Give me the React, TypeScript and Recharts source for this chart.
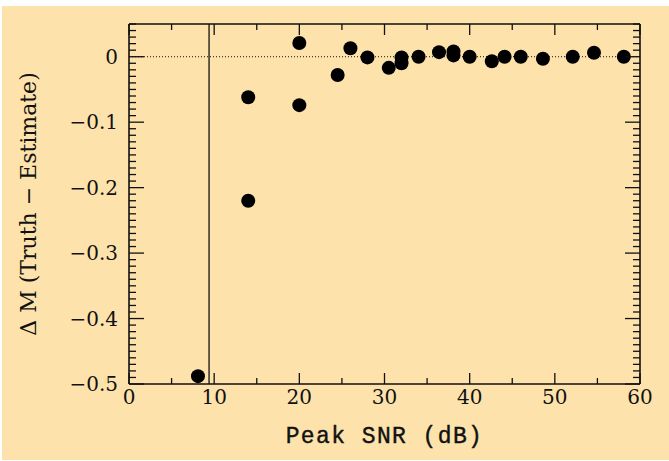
import React from 'react';
import { ScatterChart, Scatter, XAxis, YAxis, ReferenceLine } from 'recharts';

// Peak SNR (dB) vs Delta M (Truth - Estimate)
const snr = [8.1, 14.0, 14.0, 20.0, 20.0, 24.5, 26.0, 28.0, 30.5, 32.0, 32.0, 34.0, 36.4, 38.1, 38.1, 40.0, 42.6, 44.1, 46.0, 48.6, 52.1, 54.6, 58.1];
const deltaM = [-0.488, -0.062, -0.22, 0.021, -0.074, -0.028, 0.013, -0.001, -0.017, -0.001, -0.01, 0.0, 0.007, 0.008, 0.002, 0.0, -0.007, 0.0, 0.0, -0.003, 0.0, 0.006, 0.0];

const xTicks = [0, 5, 10, 15, 20, 25, 30, 35, 40, 45, 50, 55, 60];
const xLabels = [0, 10, 20, 30, 40, 50, 60];
const yLabels = [-0.5, -0.4, -0.3, -0.2, -0.1, 0];
const cutoffSnr = 9.4;

const data = snr.map((x, i) => ({ x, y: deltaM[i] }));

// minor y ticks every 0.01 between -0.5 and 0.05
const yTicks: number[] = [];
for (let i = -50; i <= 5; i++) yTicks.push(i / 100);

const BG = '#fde3ab';
const INK = '#111';
const FONT = '"DejaVu Serif", serif';
const MONO = '"Liberation Mono", monospace';

const TOP = 18;
const LEFT = 127;
const PLOT_W = 511;
const PLOT_H = 360;

const fmt = (v: number) => (v === 0 ? '0' : '\u2212' + Math.abs(v).toFixed(1));

const XTick = (props: any) => {
  const { x, y, payload } = props;
  const v = payload.value;
  const major = xLabels.includes(v);
  const len = major ? 11 : 6;
  const top = y - PLOT_H;
  return (
    <g>
      <line x1={x} y1={y} x2={x} y2={y - len} stroke={INK} strokeWidth={1.3} />
      <line x1={x} y1={top} x2={x} y2={top + len} stroke={INK} strokeWidth={1.3} />
      {major && (
        <text x={x} y={y + 20} textAnchor="middle" fontSize={20} fontFamily={FONT} fill={INK}>
          {v}
        </text>
      )}
    </g>
  );
};

const YTick = (props: any) => {
  const { x, y, payload } = props;
  const v = Math.round(payload.value * 100) / 100;
  const major = yLabels.some((m) => Math.abs(m - v) < 1e-6);
  const len = major ? 15 : 7;
  const right = x + PLOT_W;
  return (
    <g>
      <line x1={x} y1={y} x2={x + len} y2={y} stroke={INK} strokeWidth={1.3} />
      <line x1={right} y1={y} x2={right - len} y2={y} stroke={INK} strokeWidth={1.3} />
      {major && (
        <text x={x - 11} y={y + 7} textAnchor="end" fontSize={20} fontFamily={FONT} fill={INK}>
          {fmt(v)}
        </text>
      )}
    </g>
  );
};

const Dot = (props: any) => <circle cx={props.cx} cy={props.cy} r={7} fill="#000" />;

export default function App() {
  return (
    <div style={{ position: 'fixed', top: 0, left: 0, width: 669, height: 461, background: '#fff' }}>
      <div style={{ position: 'absolute', top: 6, left: 2, width: 667, height: 454, background: BG }}>
        <ScatterChart
          width={667}
          height={454}
          margin={{ top: TOP, right: 667 - LEFT - PLOT_W, bottom: 0, left: 0 }}
        >
          <XAxis
            type="number"
            dataKey="x"
            domain={[0, 60]}
            ticks={xTicks}
            interval={0}
            tickSize={0}
            tickMargin={0}
            tickLine={false}
            axisLine={{ stroke: INK, strokeWidth: 1.6 }}
            tick={<XTick />}
            height={454 - TOP - PLOT_H}
            allowDataOverflow
            label={{
              value: 'Peak SNR (dB)',
              position: 'insideBottom',
              offset: 17,
              fontSize: 23,
              fontFamily: MONO,
              fill: INK,
              stroke: INK,
              strokeWidth: 0.4,
              style: { letterSpacing: 1.4 },
            }}
          />
          <YAxis
            type="number"
            dataKey="y"
            domain={[-0.5, 0.05]}
            ticks={yTicks}
            interval={0}
            tickSize={0}
            tickMargin={0}
            tickLine={false}
            axisLine={{ stroke: INK, strokeWidth: 1.6 }}
            tick={<YTick />}
            width={LEFT}
            allowDataOverflow
            label={{
              value: '\u0394 M (Truth \u2212 Estimate)',
              angle: -90,
              position: 'insideLeft',
              offset: 26,
              fontSize: 22,
              fontFamily: FONT,
              fill: INK,
              style: { textAnchor: 'middle' },
            }}
          />
          <ReferenceLine x={60} stroke={INK} strokeWidth={1.6} />
          <ReferenceLine y={0.05} stroke={INK} strokeWidth={1.6} />
          <ReferenceLine y={0} stroke={INK} strokeWidth={1} strokeDasharray="1 2" />
          <ReferenceLine x={cutoffSnr} stroke={INK} strokeWidth={1.3} />
          <Scatter data={data} shape={<Dot />} isAnimationActive={false} />
        </ScatterChart>
      </div>
    </div>
  );
}
